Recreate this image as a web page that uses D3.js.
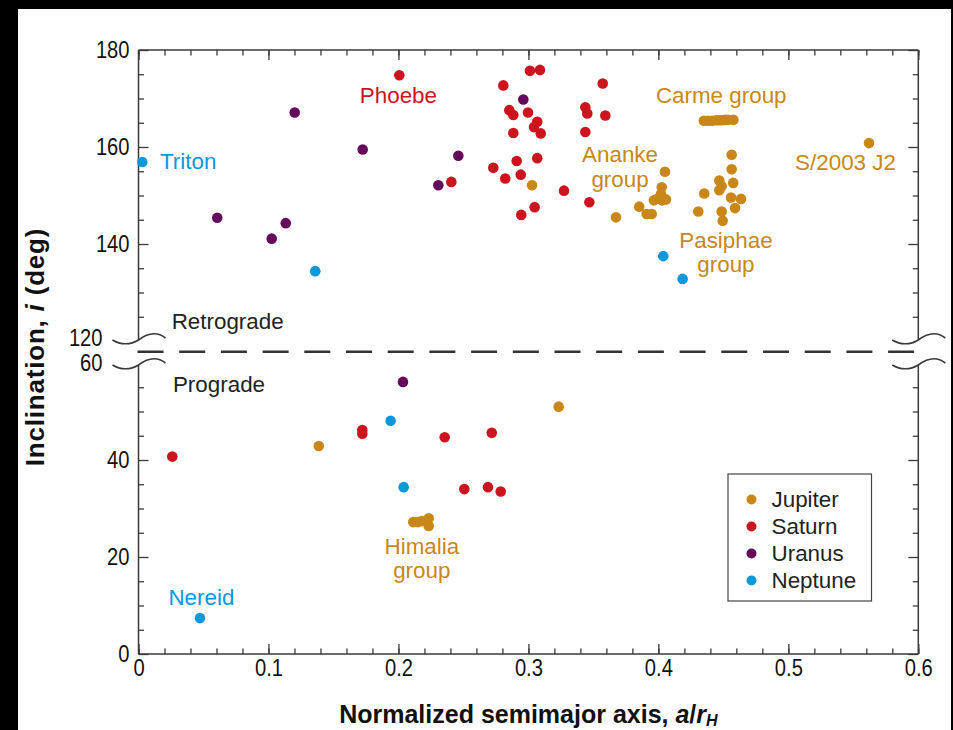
<!DOCTYPE html>
<html>
<head>
<meta charset="utf-8">
<script src="https://cdn.jsdelivr.net/npm/d3@7"></script>
<style>
  html, body { margin: 0; padding: 0; background: #000; }
  svg { display: block; }
  text { font-family: "Liberation Sans", Arial, Helvetica, sans-serif; }
</style>
</head>
<body>
<svg id="chart" width="953" height="730"></svg>
<script>
// Irregular satellites: [normalized semimajor axis a/rH, inclination i (deg)]
const jupiter = [
  [0.3028, 152.1], [0.3674, 145.5], [0.3853, 147.7], [0.3910, 146.2], [0.3949, 146.2],
  [0.3966, 149.0], [0.3997, 149.4], [0.4028, 149.0], [0.4058, 149.2], [0.4020, 150.3],
  [0.4026, 151.7], [0.4051, 154.9],
  [0.4350, 165.4], [0.4382, 165.4], [0.4413, 165.4], [0.4444, 165.5], [0.4467, 165.5],
  [0.4490, 165.5], [0.4513, 165.6], [0.4536, 165.6], [0.4577, 165.6],
  [0.4564, 158.4], [0.4564, 155.4], [0.4469, 153.1], [0.4576, 152.6], [0.4487, 151.9],
  [0.4469, 151.1], [0.4353, 150.4], [0.4559, 149.6], [0.4636, 149.3], [0.4307, 146.7],
  [0.4590, 147.4], [0.4487, 146.7], [0.4495, 144.8],
  [0.5621, 160.8],
  [0.1387, 42.9], [0.3233, 51.0],
  [0.2114, 27.2], [0.2150, 27.2], [0.2179, 27.4], [0.2233, 28.0], [0.2233, 26.4]
];
const saturn = [
  [0.2007, 174.8], [0.3012, 175.7], [0.3089, 175.9], [0.2807, 172.7], [0.3572, 173.1],
  [0.2853, 167.6], [0.2884, 166.6], [0.2997, 167.1], [0.3438, 168.2], [0.3453, 166.9],
  [0.3592, 166.5], [0.3068, 165.2], [0.3043, 164.1], [0.3095, 162.8], [0.2884, 162.9],
  [0.3438, 163.1], [0.3068, 157.7], [0.2910, 157.1], [0.2730, 155.7], [0.2941, 154.3],
  [0.2822, 153.5], [0.2407, 152.8], [0.3274, 151.0], [0.3469, 148.6], [0.3048, 147.6],
  [0.2945, 146.0],
  [0.0260, 40.7], [0.1722, 46.2], [0.1722, 45.4], [0.2356, 44.7], [0.2718, 45.6],
  [0.2507, 34.0], [0.2689, 34.4], [0.2787, 33.5]
];
const uranus = [
  [0.2961, 169.8], [0.2461, 158.2], [0.2307, 152.1], [0.1202, 167.1], [0.1725, 159.5],
  [0.0606, 145.4], [0.1025, 141.1], [0.1133, 144.3],
  [0.2035, 56.1]
];
const neptune = [
  [0.0029, 156.9], [0.1360, 134.4], [0.4038, 137.5], [0.4187, 132.8],
  [0.1940, 48.1], [0.2040, 34.4], [0.0473, 7.4]
];

const planetNames = ["Jupiter", "Saturn", "Uranus", "Neptune"];
const planetColors = ["#C98719", "#CC141E", "#650A5B", "#0A97DC"];
const planetData = [jupiter, saturn, uranus, neptune];

const xTicks = [0, 0.1, 0.2, 0.3, 0.4, 0.5, 0.6];
const yTicksUpper = [120, 140, 160, 180];
const yTicksLower = [0, 20, 40, 60];

// Text annotations: [text, a/rH, i, planet index, anchor]
const notes = [
  ["Phoebe", 0.2000, 169.1, 1, "middle"],
  ["Triton", 0.0165, 155.5, 3, "start"],
  ["Carme group", 0.3981, 169.0, 0, "start"],
  ["Ananke", 0.3705, 157.0, 0, "middle"],
  ["group", 0.3705, 151.8, 0, "middle"],
  ["S/2003 J2", 0.5440, 155.2, 0, "middle"],
  ["Pasiphae", 0.4520, 139.1, 0, "middle"],
  ["group", 0.4520, 134.3, 0, "middle"],
  ["Himalia", 0.2180, 20.6, 0, "middle"],
  ["group", 0.2180, 15.6, 0, "middle"],
  ["Nereid", 0.0230, 10.1, 3, "start"],
  ["Retrograde", 0.0255, 122.4, -1, "start"],
  ["Prograde", 0.0265, 54.0, -1, "start"]
];

const svg = d3.select("#chart");
const W = 953, H = 730;

// white page area
svg.append("rect").attr("x", 18).attr("y", 9).attr("width", 933).attr("height", H - 9).attr("fill", "#fff");

const plotL = 138.5, plotR = 918.3, plotT = 50, plotB = 654;
const upperBottom = 341, lowerTop = 363;

const x = d3.scaleLinear().domain([0, 0.6]).range([plotL, plotR]);
const yUp = d3.scaleLinear().domain([120, 180]).range([upperBottom, plotT]);
const yLo = d3.scaleLinear().domain([0, 60]).range([plotB, lowerTop]);
const y = i => (i >= 90 ? yUp(i) : yLo(i));

const axisColor = "#3a3a3a";
const tickFont = 24, squeeze = 0.84;
const fmtX = d => (d === 0 ? "0" : d.toFixed(1));

function styleAxis(g, labels) {
  g.select(".domain").remove();
  g.selectAll(".tick line").attr("stroke", axisColor).attr("stroke-width", 1.3);
  if (labels) {
    g.selectAll(".tick text")
      .attr("fill", "#111")
      .style("font-size", tickFont + "px")
      .attr("transform", `scale(${squeeze},1)`);
  } else {
    g.selectAll(".tick text").remove();
  }
}

const minorX = d3.range(0, 0.6001, 0.02);
const minorUp = d3.range(120, 181, 5);
const minorLo = d3.range(0, 61, 5);

// bottom axis
svg.append("g").attr("transform", `translate(0,${plotB})`)
  .call(d3.axisBottom(x).tickValues(minorX).tickSizeInner(-5.5).tickSizeOuter(0))
  .call(g => styleAxis(g, false));
svg.append("g").attr("transform", `translate(0,${plotB})`)
  .call(d3.axisBottom(x).tickValues(xTicks).tickFormat(fmtX).tickSizeInner(-10).tickSizeOuter(0).tickPadding(5))
  .call(g => styleAxis(g, true));
// top axis
svg.append("g").attr("transform", `translate(0,${plotT})`)
  .call(d3.axisTop(x).tickValues(minorX).tickSizeInner(-5.5).tickSizeOuter(0))
  .call(g => styleAxis(g, false));
svg.append("g").attr("transform", `translate(0,${plotT})`)
  .call(d3.axisTop(x).tickValues(xTicks).tickSizeInner(-10).tickSizeOuter(0))
  .call(g => styleAxis(g, false));

// left and right axes, upper and lower sections
const leftLabels = [];
[[yUp, minorUp, yTicksUpper], [yLo, minorLo, yTicksLower]].forEach(([sc, minor, major]) => {
  svg.append("g").attr("transform", `translate(${plotL},0)`)
    .call(d3.axisLeft(sc).tickValues(minor.filter(v => !major.includes(v))).tickSizeInner(-5.5).tickSizeOuter(0))
    .call(g => styleAxis(g, false));
  leftLabels.push(svg.append("g").attr("transform", `translate(${plotL},0)`)
    .call(d3.axisLeft(sc).tickValues(major).tickSizeInner(-10).tickSizeOuter(0).tickPadding(9 / squeeze))
    .call(g => styleAxis(g, true)));
  svg.append("g").attr("transform", `translate(${plotR},0)`)
    .call(d3.axisRight(sc).tickValues(minor.filter(v => !major.includes(v))).tickSizeInner(-5.5).tickSizeOuter(0))
    .call(g => styleAxis(g, false));
  svg.append("g").attr("transform", `translate(${plotR},0)`)
    .call(d3.axisRight(sc).tickValues(major).tickSizeInner(-10).tickSizeOuter(0))
    .call(g => styleAxis(g, false));
});
// no tick marks where the axis is broken; labels there sit left of the break symbol
svg.selectAll(".tick").filter(d => d === 120 || d === 60).selectAll("line").remove();
leftLabels.forEach(g => g.selectAll(".tick").filter(d => d === 120 || d === 60).select("text")
  .attr("x", -36 / squeeze)
  .attr("y", d => (d === 120 ? -3 : 0)));

// frame lines with a break between the retrograde and prograde panels
const frame = svg.append("g").attr("fill", "none").attr("stroke", axisColor).attr("stroke-width", 1.5);
frame.append("line").attr("x1", plotL).attr("x2", plotR).attr("y1", plotT).attr("y2", plotT);
frame.append("line").attr("x1", plotL).attr("x2", plotR).attr("y1", plotB).attr("y2", plotB);
[plotL, plotR].forEach(ax => {
  frame.append("line").attr("x1", ax).attr("x2", ax).attr("y1", plotT).attr("y2", upperBottom - 1);
  frame.append("line").attr("x1", ax).attr("x2", ax).attr("y1", lowerTop + 2).attr("y2", plotB);
  [upperBottom - 1, lowerTop + 2].forEach(yc => {
    frame.append("path")
      .attr("stroke-width", 1.6)
      .attr("d", `M${ax - 26},${yc} C${ax - 18},${yc + 5} ${ax - 8},${yc + 5} ${ax},${yc}` +
                 ` C${ax + 8},${yc - 6} ${ax + 18},${yc - 9} ${ax + 27},${yc - 2}`);
  });
});
// dashed divider
svg.append("line")
  .attr("x1", plotL - 1).attr("x2", plotR).attr("y1", 351.7).attr("y2", 351.7)
  .attr("stroke", "#333").attr("stroke-width", 2.4).attr("stroke-dasharray", "26,15.7");

// satellites
planetData.forEach((data, k) => {
  svg.append("g").selectAll("circle").data(data).join("circle")
    .attr("cx", d => x(d[0])).attr("cy", d => y(d[1])).attr("r", 5.3)
    .attr("fill", planetColors[k]);
});

// annotations
svg.append("g").selectAll("text").data(notes).join("text")
  .attr("x", d => x(d[1])).attr("y", d => y(d[2]))
  .attr("text-anchor", d => d[4])
  .attr("fill", d => (d[3] < 0 ? "#222" : planetColors[d[3]]))
  .style("font-size", "22.4px")
  .text(d => d[0]);

// legend
const lg = svg.append("g").attr("transform", "translate(728,474)");
lg.append("rect").attr("width", 143.5).attr("height", 127)
  .attr("fill", "#fff").attr("stroke", "#444").attr("stroke-width", 1.2);
planetNames.forEach((name, k) => {
  const row = lg.append("g").attr("transform", `translate(0,${25.5 + k * 27})`);
  row.append("circle").attr("cx", 23.5).attr("cy", 0).attr("r", 5).attr("fill", planetColors[k]);
  row.append("text").attr("x", 43.5).attr("y", 7.5).attr("fill", "#222")
    .style("font-size", "22.4px").text(name);
});

// axis titles
const xt = svg.append("text").attr("x", (plotL + plotR) / 2).attr("y", 723)
  .attr("text-anchor", "middle").attr("fill", "#111")
  .style("font-size", "25px").style("font-weight", "bold");
xt.append("tspan").text("Normalized semimajor axis, ");
xt.append("tspan").style("font-style", "italic").text("a");
xt.append("tspan").text("/");
xt.append("tspan").style("font-style", "italic").text("r");
xt.append("tspan").style("font-style", "italic").style("font-size", "16px").attr("dy", 3).text("H");

const yt = svg.append("text").attr("transform", "translate(44,347) rotate(-90)")
  .attr("text-anchor", "middle").attr("fill", "#111")
  .style("font-size", "26px").style("font-weight", "bold").style("letter-spacing", "0.8px");
yt.append("tspan").text("Inclination, ");
yt.append("tspan").style("font-style", "italic").text("i");
yt.append("tspan").text("  (deg)");
</script>
</body>
</html>
